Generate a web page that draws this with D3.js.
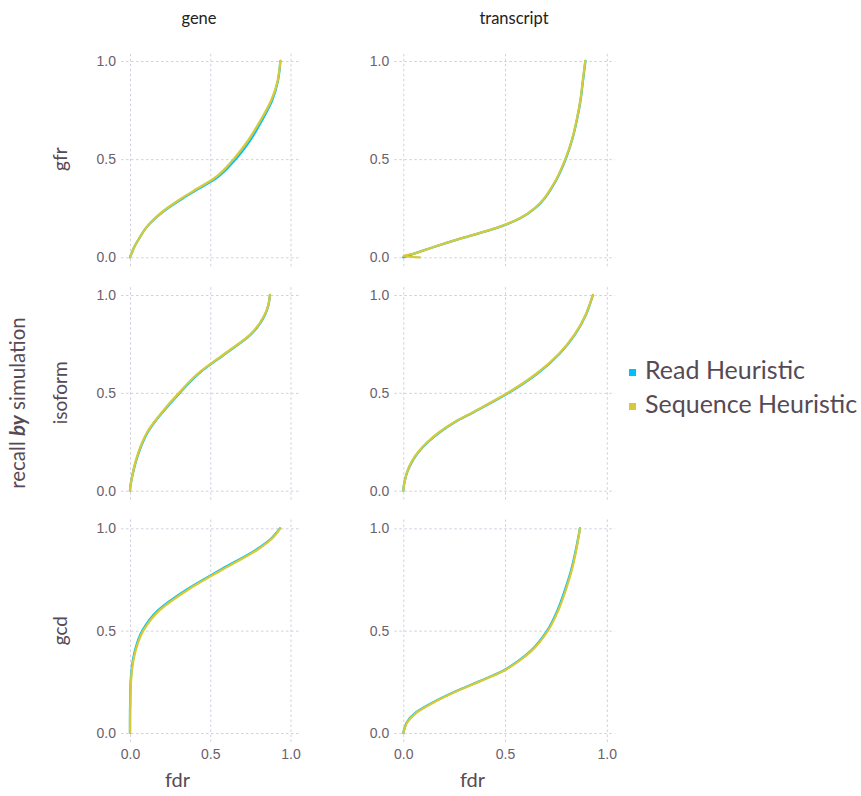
<!DOCTYPE html>
<html>
<head>
<meta charset="utf-8">
<script src="https://cdn.jsdelivr.net/npm/d3@7"></script>
<style>
  body { margin: 0; background: #fff; }
  svg { display: block; font-family: "Lato", "Open Sans", sans-serif; }
</style>
</head>
<body>
<svg id="chart" width="861" height="796"></svg>
<script>
// ---------------- data ----------------
const columns = ["gene", "transcript"];
const rows = ["gfr", "isoform", "gcd"];
const seriesNames = ["Read Heuristic", "Sequence Heuristic"];
const seriesColors = ["#00BFFF", "#D4CA3A"];
const tickValues = [0, 0.5, 1.0];

// recall levels (y) shared by every curve
const recallLevels = [0, 0.005, 0.02, 0.05, 0.1, 0.15, 0.2, 0.25, 0.3, 0.35, 0.4, 0.5, 0.6, 0.7, 0.8, 0.9, 0.95, 1.0];

// fdr (x) at each recall level, per panel and series
const geneGfrRead       = [0, 0.002, 0.01, 0.025, 0.06, 0.1, 0.158, 0.235, 0.328, 0.43, 0.532, 0.658, 0.752, 0.824, 0.886, 0.922, 0.931, 0.937];
const geneGfrSeq        = [0, 0.002, 0.01, 0.025, 0.06, 0.1, 0.156, 0.23, 0.32, 0.42, 0.52, 0.645, 0.74, 0.815, 0.88, 0.92, 0.93, 0.937];
const transcriptGfrRead = [0, 0.014, 0.057, 0.143, 0.296, 0.46, 0.577, 0.648, 0.694, 0.727, 0.755, 0.798, 0.83, 0.853, 0.871, 0.883, 0.889, 0.895];
const transcriptGfrSeq  = [0.081, 0.0, 0.056, 0.142, 0.295, 0.458, 0.575, 0.646, 0.692, 0.725, 0.753, 0.796, 0.829, 0.852, 0.87, 0.882, 0.888, 0.894];
const geneIsoRead       = [0, 0.0005, 0.002, 0.008, 0.021, 0.037, 0.057, 0.081, 0.111, 0.153, 0.202, 0.31, 0.43, 0.594, 0.755, 0.842, 0.863, 0.872];
const geneIsoSeq        = [0, 0.0005, 0.002, 0.008, 0.02, 0.035, 0.054, 0.078, 0.108, 0.15, 0.198, 0.305, 0.425, 0.59, 0.752, 0.84, 0.862, 0.872];
const transcriptIsoRead = [0, 0.0005, 0.002, 0.007, 0.021, 0.044, 0.077, 0.123, 0.181, 0.253, 0.344, 0.518, 0.661, 0.768, 0.845, 0.898, 0.916, 0.932];
const transcriptIsoSeq  = [0, 0.0005, 0.002, 0.007, 0.02, 0.042, 0.075, 0.12, 0.178, 0.25, 0.34, 0.514, 0.657, 0.765, 0.843, 0.897, 0.915, 0.932];
const geneGcdRead       = [0, 0, 0, 0, 0, 0.001, 0.002, 0.004, 0.009, 0.017, 0.03, 0.077, 0.176, 0.352, 0.57, 0.795, 0.88, 0.935];
const geneGcdSeq        = [0, 0, 0, 0, 0.001, 0.002, 0.003, 0.006, 0.011, 0.02, 0.034, 0.083, 0.185, 0.362, 0.58, 0.803, 0.885, 0.935];
const transcriptGcdRead = [0, 0.001, 0.005, 0.016, 0.062, 0.147, 0.25, 0.367, 0.483, 0.562, 0.625, 0.707, 0.758, 0.795, 0.826, 0.849, 0.859, 0.868];
const transcriptGcdSeq  = [0, 0.001, 0.006, 0.018, 0.066, 0.151, 0.254, 0.371, 0.487, 0.566, 0.629, 0.711, 0.762, 0.799, 0.829, 0.851, 0.86, 0.868];

const panelData = {
  "gfr|gene": [geneGfrRead, geneGfrSeq],
  "gfr|transcript": [transcriptGfrRead, transcriptGfrSeq],
  "isoform|gene": [geneIsoRead, geneIsoSeq],
  "isoform|transcript": [transcriptIsoRead, transcriptIsoSeq],
  "gcd|gene": [geneGcdRead, geneGcdSeq],
  "gcd|transcript": [transcriptGcdRead, transcriptGcdSeq]
};

// ---------------- layout ----------------
const svg = d3.select("#chart");
const colRanges = [[130, 290.5], [403.3, 606.8]];
const rowRanges = [[257.3, 61], [490.7, 295], [733, 528.3]];
const padL = 9, padR = 8, padT = 9, padB = 9;
const gridColor = "#D0D0E0";
const tickColor = "#6C606B";
const labelColor = "#564A55";

const xScales = colRanges.map(r => d3.scaleLinear().domain([0, 1]).range(r));
const yScales = rowRanges.map(r => d3.scaleLinear().domain([0, 1]).range(r));
const fmt = d3.format(".1f");

rows.forEach((rowName, ri) => {
  columns.forEach((colName, ci) => {
    const x = xScales[ci], y = yScales[ri];
    const x0 = x(0) - padL, x1 = x(1) + padR;
    const yTop = y(1) - padT, yBot = y(0) + padB;
    const g = svg.append("g");

    // vertical grid + x tick labels
    const xAxis = d3.axisBottom(x).tickValues(tickValues)
      .tickSizeInner(-(yBot - yTop)).tickSizeOuter(0).tickPadding(7)
      .tickFormat(ri === rows.length - 1 ? fmt : () => "");
    const gx = g.append("g").attr("transform", `translate(0,${yBot})`).call(xAxis);
    gx.select(".domain").remove();

    // horizontal grid + y tick labels
    const yAxis = d3.axisLeft(y).tickValues(tickValues)
      .tickSizeInner(-(x1 - x0)).tickSizeOuter(0).tickPadding(5)
      .tickFormat(fmt);
    const gy = g.append("g").attr("transform", `translate(${x0},0)`).call(yAxis);
    gy.select(".domain").remove();

    [gx, gy].forEach(a => {
      a.selectAll(".tick line").attr("stroke", gridColor).attr("stroke-width", 1)
        .attr("stroke-dasharray", "2.5,2.5");
      a.selectAll(".tick text").attr("fill", tickColor).attr("font-size", 14);
    });

    // curves
    const line = d3.line()
      .x(d => x(d[0])).y(d => y(d[1]))
      .curve(d3.curveMonotoneY);
    panelData[rowName + "|" + colName].forEach((fdrs, si) => {
      const pts = fdrs.map((f, i) => [f, recallLevels[i]]);
      g.append("path").datum(pts)
        .attr("d", line)
        .attr("fill", "none")
        .attr("stroke", seriesColors[si])
        .attr("stroke-width", 2.3)
        .attr("stroke-linejoin", "round")
        .attr("stroke-linecap", "round");
    });
  });
});

// column titles
const colTitleX = [199, 514];
columns.forEach((c, ci) => {
  svg.append("text").attr("x", colTitleX[ci]).attr("y", 20)
    .attr("text-anchor", "middle").attr("dominant-baseline", "middle")
    .attr("font-size", 16.5).attr("fill", "#222").text(c);
});

// row titles
rows.forEach((r, ri) => {
  const y = yScales[ri];
  const cy = (y(0) + y(1)) / 2;
  svg.append("text").attr("transform", `translate(62,${cy}) rotate(-90)`)
    .attr("text-anchor", "middle").attr("dominant-baseline", "middle")
    .attr("font-size", 19).attr("fill", labelColor).text(r);
});

// y axis title
const yt = svg.append("text").attr("transform", "translate(20,403) rotate(-90)")
  .attr("text-anchor", "middle").attr("dominant-baseline", "middle")
  .attr("font-size", 20.5).attr("fill", labelColor);
yt.append("tspan").text("recall ");
yt.append("tspan").attr("font-weight", "bold").attr("font-style", "italic").text("by");
yt.append("tspan").text(" simulation");

// x axis titles
const fdrX = [177.5, 472.5];
fdrX.forEach(fx => {
  svg.append("text").attr("x", fx).attr("y", 782)
    .attr("text-anchor", "middle").attr("dominant-baseline", "middle")
    .attr("font-size", 20).attr("fill", labelColor).text("fdr");
});

// legend
const legendY = [372.5, 406.5];
seriesNames.forEach((s, si) => {
  svg.append("rect").attr("x", 629).attr("y", legendY[si] - 3.5)
    .attr("width", 7).attr("height", 7).attr("fill", seriesColors[si]);
  svg.append("text").attr("x", 645).attr("y", legendY[si])
    .attr("dominant-baseline", "middle")
    .attr("font-size", 25).attr("fill", labelColor).text(s);
});
</script>
</body>
</html>
